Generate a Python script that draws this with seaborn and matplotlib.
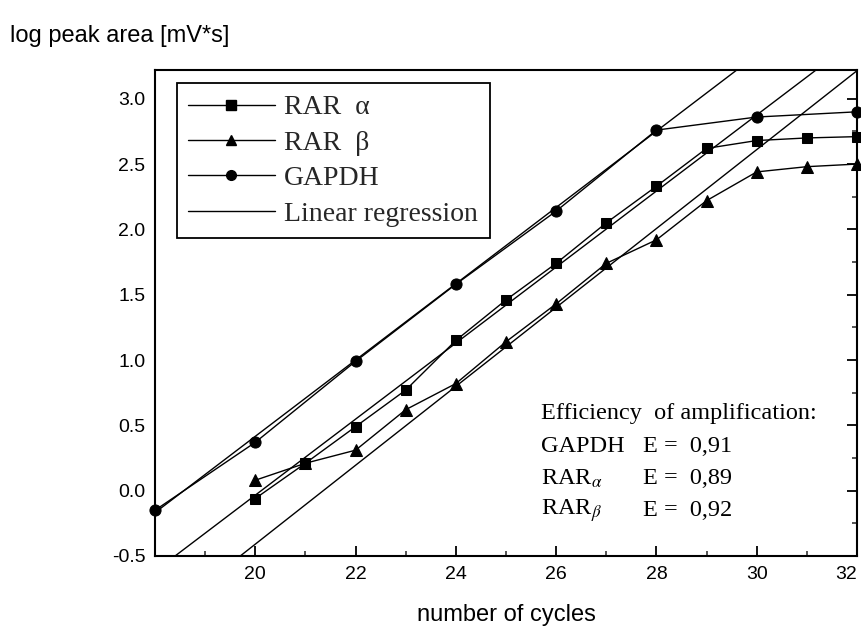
import numpy as np
import pandas as pd
import seaborn as sns
import matplotlib
matplotlib.use("Agg")
import matplotlib.pyplot as plt
from matplotlib.lines import Line2D
from matplotlib.ticker import MultipleLocator

# ---- data ----
gapdh_cycles = [18, 20, 22, 24, 26, 28, 30, 32]
gapdh_values = [-0.15, 0.37, 0.99, 1.58, 2.14, 2.76, 2.86, 2.90]

rara_cycles = [20, 21, 22, 23, 24, 25, 26, 27, 28, 29, 30, 31, 32]
rara_values = [-0.06, 0.21, 0.49, 0.77, 1.15, 1.46, 1.74, 2.05, 2.33, 2.62, 2.68, 2.70, 2.71]

rarb_cycles = [20, 21, 22, 23, 24, 25, 26, 27, 28, 29, 30, 31, 32]
rarb_values = [0.08, 0.21, 0.31, 0.62, 0.82, 1.14, 1.43, 1.74, 1.92, 2.22, 2.44, 2.48, 2.50]

# linear regression lines (anchor point and slope)
reg_names = ["GAPDH", "RARa", "RARb"]
reg_x0 = [22.0, 18.4, 19.7]
reg_y0 = [1.00, -0.5, -0.5]
reg_slope = [0.292, 0.291, 0.302]

eff_names = ["GAPDH", "RAR$_{\\alpha}$", "RAR$_{\\beta}$"]
eff_values = ["E =  0,91", "E =  0,89", "E =  0,92"]

x_ticks = [20, 22, 24, 26, 28, 30, 32]
y_ticks = [-0.5, 0.0, 0.5, 1.0, 1.5, 2.0, 2.5, 3.0]

# ---- figure ----
sns.set_theme(style="white")
plt.rcParams["font.family"] = ["Liberation Sans", "DejaVu Sans"]
plt.rcParams["mathtext.fontset"] = "stix"

fig = plt.figure(figsize=(8.61, 6.28), dpi=100)
ax = fig.add_axes([155 / 861, 1 - 556 / 628, 702 / 861, 486 / 628])

lw = 1.0
ms = 7
df_a = pd.DataFrame({"x": rara_cycles, "y": rara_values})
df_b = pd.DataFrame({"x": rarb_cycles, "y": rarb_values})
df_g = pd.DataFrame({"x": gapdh_cycles, "y": gapdh_values})
sns.lineplot(data=df_a, x="x", y="y", ax=ax, color="black", marker="s", markersize=ms,
             markeredgecolor="black", linewidth=lw, clip_on=False, zorder=3)
sns.lineplot(data=df_b, x="x", y="y", ax=ax, color="black", marker="^", markersize=ms + 1,
             markeredgecolor="black", linewidth=lw, clip_on=False, zorder=3)
sns.lineplot(data=df_g, x="x", y="y", ax=ax, color="black", marker="o", markersize=ms + 1,
             markeredgecolor="black", linewidth=lw, clip_on=False, zorder=3)

for x0, y0, s in zip(reg_x0, reg_y0, reg_slope):
    ax.axline((x0, y0), slope=s, color="black", linewidth=lw, zorder=2)

ax.set_xlim(18, 32)
ax.set_ylim(-0.5, 3.22)
ax.set_xticks(x_ticks)
ax.set_xticklabels([str(v) for v in x_ticks])
ax.set_yticks(y_ticks)
ax.set_yticklabels([f"{v:.1f}" for v in y_ticks])
ax.xaxis.set_minor_locator(MultipleLocator(1))
ax.yaxis.set_minor_locator(MultipleLocator(0.25))
ax.tick_params(axis="both", which="major", direction="in", length=7, width=1.3,
               labelsize=14, pad=7, colors="black")
ax.tick_params(axis="both", which="minor", direction="in", length=3.5, width=1.1)
ax.tick_params(axis="y", which="both", right=True, labelright=False)
ax.tick_params(axis="x", which="both", bottom=True, top=False)
ax.get_xticklabels()[-1].set_horizontalalignment("right")
for sp in ax.spines.values():
    sp.set_color("black")
    sp.set_linewidth(1.5)

ax.set_xlabel("number of cycles", fontsize=17, labelpad=15, color="black")
ax.set_ylabel("")
fig.text(10 / 861, 1 - 36 / 628, "log peak area [mV*s]", fontsize=17,
         ha="left", va="center", color="black")

handles = [
    Line2D([], [], color="black", marker="s", markersize=ms, linewidth=lw),
    Line2D([], [], color="black", marker="^", markersize=ms, linewidth=lw),
    Line2D([], [], color="black", marker="o", markersize=ms, linewidth=lw),
    Line2D([], [], color="black", linewidth=lw),
]
labels = ["RAR  α", "RAR  β", "GAPDH", "Linear regression"]
leg = ax.legend(handles, labels, loc="upper left", bbox_to_anchor=(0.031, 0.973),
                borderaxespad=0, frameon=True, fancybox=False, framealpha=1,
                edgecolor="black", handlelength=3.1, handletextpad=0.35,
                labelspacing=0.36, borderpad=0.42,
                prop={"family": "Liberation Serif", "size": 20})
leg.get_frame().set_linewidth(1.3)

serif = {"family": "Liberation Serif", "size": 17.5, "color": "black"}
ax.text((541 - 155) / 702, (556 - 414) / 486, "Efficiency  of amplification:",
        transform=ax.transAxes, ha="left", va="center", **serif)
rows_y = [447, 479, 511]
for name, val, py in zip(eff_names, eff_values, rows_y):
    ax.text((541 - 155) / 702, (556 - py) / 486, name, transform=ax.transAxes,
            ha="left", va="center", **serif)
    ax.text((643 - 155) / 702, (556 - py) / 486, val, transform=ax.transAxes,
            ha="left", va="center", **serif)

fig.savefig("out.png", dpi=100, facecolor="white")
